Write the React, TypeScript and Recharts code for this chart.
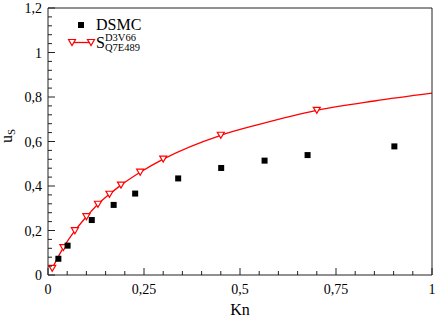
import React from 'react';
import { ComposedChart, Line, Scatter, XAxis, YAxis } from 'recharts';

// DSMC results (black squares)
const dsmcKn = [0.027, 0.051, 0.114, 0.171, 0.227, 0.339, 0.451, 0.564, 0.676, 0.902];
const dsmcU = [0.073, 0.132, 0.247, 0.315, 0.366, 0.434, 0.481, 0.514, 0.539, 0.578];

// model markers (red triangles)
const modelKn = [0.011, 0.04, 0.07, 0.1, 0.13, 0.16, 0.19, 0.24, 0.3, 0.45, 0.7];
const modelU = [0.03, 0.123, 0.199, 0.262, 0.318, 0.363, 0.404, 0.462, 0.521, 0.628, 0.74];

// model curve (red line)
const curveKn = [0.011, 0.04, 0.07, 0.1, 0.13, 0.16, 0.19, 0.24, 0.3, 0.45, 0.55, 0.7, 0.85, 1];
const curveU = [0.03, 0.123, 0.199, 0.262, 0.318, 0.363, 0.404, 0.462, 0.521, 0.628, 0.677, 0.74, 0.782, 0.817];

const xMajor = [0, 0.25, 0.5, 0.75, 1];
const yMajor = [0, 0.2, 0.4, 0.6, 0.8, 1, 1.2];
const xTicks = Array.from({ length: 21 }, (_, i) => i / 20);
const yTicks = Array.from({ length: 31 }, (_, i) => Math.round(i * 4) / 100);

const dsmcData = dsmcKn.map((kn, i) => ({ kn, u: dsmcU[i] }));
const modelData = modelKn.map((kn, i) => ({ kn, u: modelU[i] }));
const curveData = curveKn.map((kn, i) => ({ kn, u: curveU[i] }));

const FRAME = '#222';
const RED = '#ff0000';
const FONT = '"Liberation Serif", "DejaVu Serif", serif';
const serif = { fontFamily: FONT };

const isMajor = (list: number[], v: number) => list.some((m) => Math.abs(m - v) < 1e-6);
const fmt = (v: number) => String(Math.round(v * 100) / 100).replace('.', ',');

const BottomTick = (props: any) => {
  const { x, y, payload } = props;
  const major = isMajor(xMajor, payload.value);
  return (
    <g>
      <line x1={x} x2={x} y1={y} y2={y - (major ? 7 : 4)} stroke={FRAME} />
      {major && (
        <text x={x} y={y + 19} textAnchor="middle" style={serif} fontSize={14} fill="#000">
          {fmt(payload.value)}
        </text>
      )}
    </g>
  );
};

const TopTick = (props: any) => {
  const { x, y, payload } = props;
  const major = isMajor(xMajor, payload.value);
  return <line x1={x} x2={x} y1={y} y2={y + (major ? 7 : 4)} stroke={FRAME} />;
};

const LeftTick = (props: any) => {
  const { x, y, payload } = props;
  const major = isMajor(yMajor, payload.value);
  return (
    <g>
      <line x1={x} x2={x + (major ? 7 : 4)} y1={y} y2={y} stroke={FRAME} />
      {major && (
        <text x={x - 6} y={y + 5} textAnchor="end" style={serif} fontSize={14} fill="#000">
          {fmt(payload.value)}
        </text>
      )}
    </g>
  );
};

const RightTick = (props: any) => {
  const { x, y, payload } = props;
  const major = isMajor(yMajor, payload.value);
  return <line x1={x} x2={x - (major ? 7 : 4)} y1={y} y2={y} stroke={FRAME} />;
};

const Square = (props: any) => {
  const { cx, cy } = props;
  return <rect x={cx - 3} y={cy - 3} width={6} height={6} fill="#000" />;
};

const Triangle = (props: any) => {
  const { cx, cy } = props;
  return (
    <polygon
      points={`${cx - 3.5},${cy - 3} ${cx + 3.5},${cy - 3} ${cx},${cy + 3}`}
      fill="#fff"
      stroke={RED}
      strokeWidth={1.2}
    />
  );
};

export default function App() {
  return (
    <div style={{ position: 'absolute', left: 0, top: 0, width: 436, height: 317, background: '#fff' }}>
      <ComposedChart width={436} height={317} margin={{ top: 0, right: 0, bottom: 12, left: 0 }}>
        <XAxis
          xAxisId="b"
          dataKey="kn"
          type="number"
          domain={[0, 1]}
          ticks={xTicks}
          interval={0}
          tickSize={0}
          tickMargin={0}
          tickLine={false}
          tick={BottomTick}
          axisLine={{ stroke: FRAME }}
          height={30}
        />
        <XAxis
          xAxisId="t"
          orientation="top"
          dataKey="kn"
          type="number"
          domain={[0, 1]}
          ticks={xTicks}
          interval={0}
          tickSize={0}
          tickMargin={0}
          tickLine={false}
          tick={TopTick}
          axisLine={{ stroke: FRAME }}
          height={8}
        />
        <YAxis
          yAxisId="l"
          dataKey="u"
          type="number"
          domain={[0, 1.2]}
          ticks={yTicks}
          interval={0}
          tickSize={0}
          tickMargin={0}
          tickLine={false}
          tick={LeftTick}
          axisLine={{ stroke: FRAME }}
          width={48}
        />
        <YAxis
          yAxisId="r"
          orientation="right"
          dataKey="u"
          type="number"
          domain={[0, 1.2]}
          ticks={yTicks}
          interval={0}
          tickSize={0}
          tickMargin={0}
          tickLine={false}
          tick={RightTick}
          axisLine={{ stroke: FRAME }}
          width={4}
        />
        <Line
          xAxisId="b"
          yAxisId="l"
          data={curveData}
          dataKey="u"
          type="monotone"
          stroke={RED}
          strokeWidth={1.3}
          dot={false}
          activeDot={false}
          isAnimationActive={false}
        />
        <Scatter
          xAxisId="b"
          yAxisId="l"
          data={modelData}
          dataKey="u"
          shape={Triangle}
          isAnimationActive={false}
        />
        <Scatter
          xAxisId="b"
          yAxisId="l"
          data={dsmcData}
          dataKey="u"
          shape={Square}
          isAnimationActive={false}
        />
      </ComposedChart>
      <svg
        width={436}
        height={317}
        style={{ position: 'absolute', left: 0, top: 0, pointerEvents: 'none', fontFamily: FONT }}
      >
        <rect x={78} y={22} width={6} height={6} fill="#000" />
        <text x={96} y={30} fontSize={16}>DSMC</text>
        <line x1={72} x2={91} y1={42.5} y2={42.5} stroke={RED} strokeWidth={1.3} />
        <Triangle cx={72} cy={42.5} />
        <Triangle cx={91} cy={42.5} />
        <text x={96} y={48} fontSize={16}>S</text>
        <text x={105} y={40.5} fontSize={10.5}>D3V66</text>
        <text x={105} y={50.5} fontSize={10.5}>Q7E489</text>
        <text x={240} y={315} fontSize={16} textAnchor="middle">Kn</text>
        <text transform="translate(12,136) rotate(-90)" fontSize={16} textAnchor="middle">
          u<tspan fontSize={11} dy={3}>S</tspan>
        </text>
      </svg>
    </div>
  );
}
